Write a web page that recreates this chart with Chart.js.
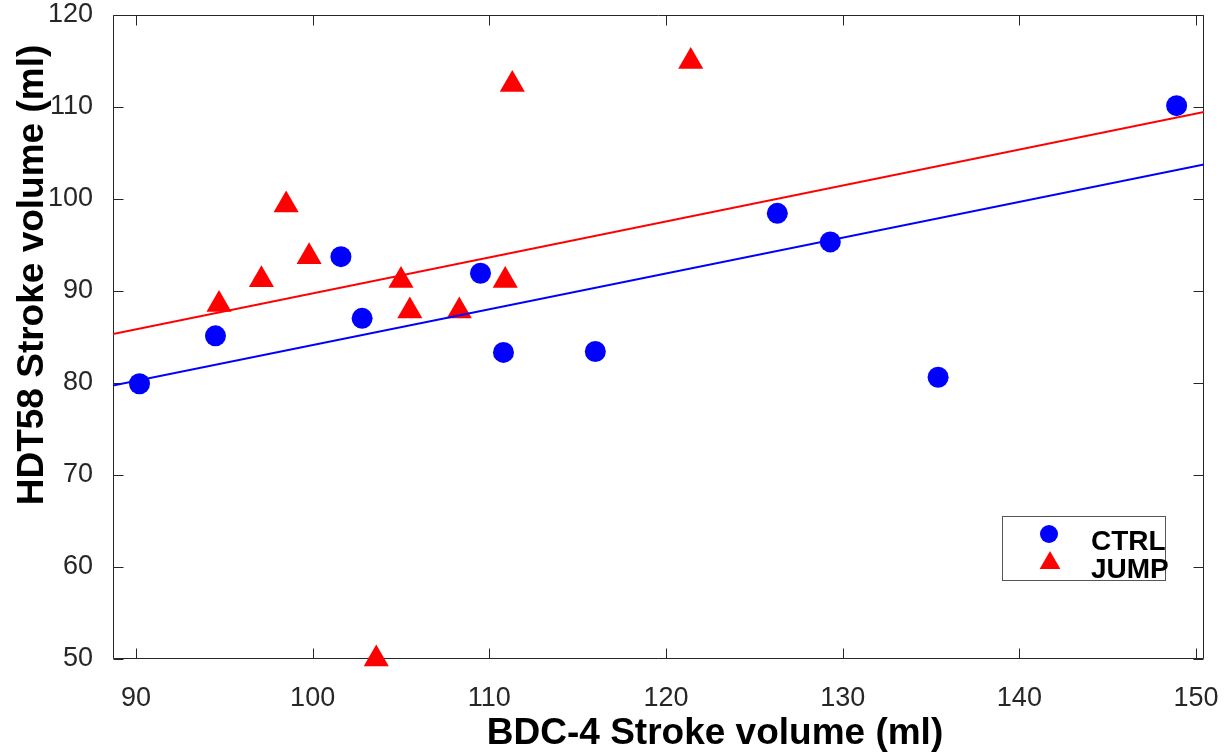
<!DOCTYPE html>
<html>
<head>
<meta charset="utf-8">
<title>Stroke volume</title>
<script src="https://cdn.jsdelivr.net/npm/chart.js@4.4.1/dist/chart.umd.min.js"></script>
<style>
  html, body { margin: 0; padding: 0; background: #fff; }
</style>
</head>
<body>
<canvas id="strokeChart" width="1230" height="753"></canvas>
<script>
// values
const ctrlX = [90.2, 94.5, 101.6, 102.8, 109.5, 110.8, 116.0, 126.3, 129.3, 135.4, 148.9];
const ctrlY = [79.9, 85.1, 93.7, 87.0, 91.9, 83.3, 83.4, 98.4, 95.3, 80.6, 110.1];
const jumpX = [94.7, 97.1, 98.5, 99.8, 103.6, 105.0, 105.5, 108.3, 110.9, 111.3, 121.4];
const jumpY = [88.5, 91.2, 99.3, 93.7, 50.0, 91.1, 87.8, 87.8, 91.1, 112.4, 114.9];

// fitted lines, ends at the axis limits
const fitX = [88.7, 150.45];
const ctrlFit = [79.7, 103.7];
const jumpFit = [85.3, 109.4];

const xTicks = [90, 100, 110, 120, 130, 140, 150];
const yTicks = [50, 60, 70, 80, 90, 100, 110, 120];

const seriesNames = ['CTRL', 'JUMP'];
const xTitle = 'BDC-4 Stroke volume (ml)';
const yTitle = 'HDT58 Stroke volume (ml)';

const FONT = "'Liberation Sans', Arial, sans-serif";
const AXIS_COLOR = '#262626';

const toPoints = (xs, ys) => xs.map((x, i) => ({ x: x, y: ys[i] }));

// box round the plot with inward ticks (matlab style)
const frame = {
  id: 'frame',
  beforeDatasetsDraw(chart) {
    const { ctx, chartArea: a, scales } = chart;
    const L = Math.round(a.left) + 0.5, R = Math.round(a.right) - 0.5;
    const T = Math.round(a.top) + 0.5, B = Math.round(a.bottom) - 0.5;
    const len = 10;
    ctx.save();
    ctx.strokeStyle = AXIS_COLOR;
    ctx.lineWidth = 1;
    ctx.beginPath();
    ctx.rect(L, T, R - L, B - T);
    xTicks.forEach(v => {
      const px = Math.round(scales.x.getPixelForValue(v)) + 0.5;
      ctx.moveTo(px, B); ctx.lineTo(px, B - len);
      ctx.moveTo(px, T); ctx.lineTo(px, T + len);
    });
    yTicks.forEach(v => {
      const py = Math.round(scales.y.getPixelForValue(v)) + 0.5;
      ctx.moveTo(L, py); ctx.lineTo(L + len, py);
      ctx.moveTo(R, py); ctx.lineTo(R - len, py);
    });
    ctx.stroke();
    ctx.restore();
  }
};

// axis titles and the boxed legend
const labels = {
  id: 'labels',
  afterDraw(chart) {
    const ctx = chart.ctx;
    ctx.save();
    ctx.fillStyle = '#000';
    ctx.font = 'bold 37px ' + FONT;
    ctx.textAlign = 'center';
    ctx.textBaseline = 'alphabetic';
    ctx.fillText(xTitle, 715, 744);

    ctx.save();
    ctx.translate(43, 275);
    ctx.rotate(-Math.PI / 2);
    ctx.fillText(yTitle, 0, 0);
    ctx.restore();

    // legend
    ctx.strokeStyle = '#555';
    ctx.lineWidth = 1;
    ctx.strokeRect(1002.5, 516.5, 163, 64);

    ctx.fillStyle = '#0000ff';
    ctx.beginPath();
    ctx.arc(1049, 534, 9, 0, Math.PI * 2);
    ctx.fill();

    const r = 12, tx = 1050, ty = 563;
    ctx.fillStyle = '#ff0000';
    ctx.beginPath();
    ctx.moveTo(tx, ty - r);
    ctx.lineTo(tx + r * Math.sin(Math.PI * 2 / 3), ty + r / 2);
    ctx.lineTo(tx - r * Math.sin(Math.PI * 2 / 3), ty + r / 2);
    ctx.closePath();
    ctx.fill();

    ctx.fillStyle = '#000';
    ctx.font = 'bold 28px ' + FONT;
    ctx.textAlign = 'left';
    ctx.fillText(seriesNames[0], 1091, 550);
    ctx.fillText(seriesNames[1], 1091, 578);
    ctx.restore();
  }
};

const whiteBg = {
  id: 'whiteBg',
  beforeDraw(chart) {
    const ctx = chart.ctx;
    ctx.save();
    ctx.fillStyle = '#fff';
    ctx.fillRect(0, 0, chart.width, chart.height);
    ctx.restore();
  }
};

const config = {
  type: 'scatter',
  data: {
    datasets: [
      {
        label: seriesNames[0] + ' fit',
        data: toPoints(fitX, ctrlFit),
        showLine: true,
        borderColor: '#0000ff',
        borderWidth: 2,
        pointRadius: 0,
        order: 0,
      },
      {
        label: seriesNames[1] + ' fit',
        data: toPoints(fitX, jumpFit),
        showLine: true,
        borderColor: '#ff0000',
        borderWidth: 2,
        pointRadius: 0,
        order: 0,
      },
      {
        label: seriesNames[0],
        data: toPoints(ctrlX, ctrlY),
        pointStyle: 'circle',
        pointRadius: 10.5,
        backgroundColor: '#0000ff',
        borderWidth: 0,
        clip: false,
        order: 1,
      },
      {
        label: seriesNames[1],
        data: toPoints(jumpX, jumpY),
        pointStyle: 'triangle',
        pointRadius: 14.5,
        backgroundColor: '#ff0000',
        borderWidth: 0,
        clip: false,
        order: 1,
      },
    ],
  },
  options: {
    responsive: false,
    animation: false,
    layout: { padding: { top: 13, right: 26, left: 0, bottom: 0 } },
    scales: {
      x: {
        type: 'linear',
        min: 88.7,
        max: 150.45,
        afterBuildTicks: s => { s.ticks = xTicks.map(v => ({ value: v })); },
        afterFit: s => { s.height = 94; s.paddingLeft = 0; s.paddingRight = 0; },
        grid: { display: false, drawTicks: false },
        border: { display: false },
        ticks: {
          autoSkip: false,
          maxRotation: 0,
          padding: 26,
          color: AXIS_COLOR,
          font: { family: FONT, size: 27, lineHeight: 1 },
        },
      },
      y: {
        type: 'linear',
        min: 50,
        max: 120,
        afterBuildTicks: s => { s.ticks = yTicks.map(v => ({ value: v })); },
        afterFit: s => { s.width = 113; s.paddingTop = 0; s.paddingBottom = 0; },
        grid: { display: false, drawTicks: false },
        border: { display: false },
        ticks: {
          autoSkip: false,
          padding: 20,
          color: AXIS_COLOR,
          font: { family: FONT, size: 27, lineHeight: 1 },
        },
      },
    },
    plugins: {
      legend: { display: false },
      tooltip: { enabled: false },
    },
  },
  plugins: [whiteBg, frame, labels],
};

new Chart(document.getElementById('strokeChart').getContext('2d'), config);
</script>
</body>
</html>
